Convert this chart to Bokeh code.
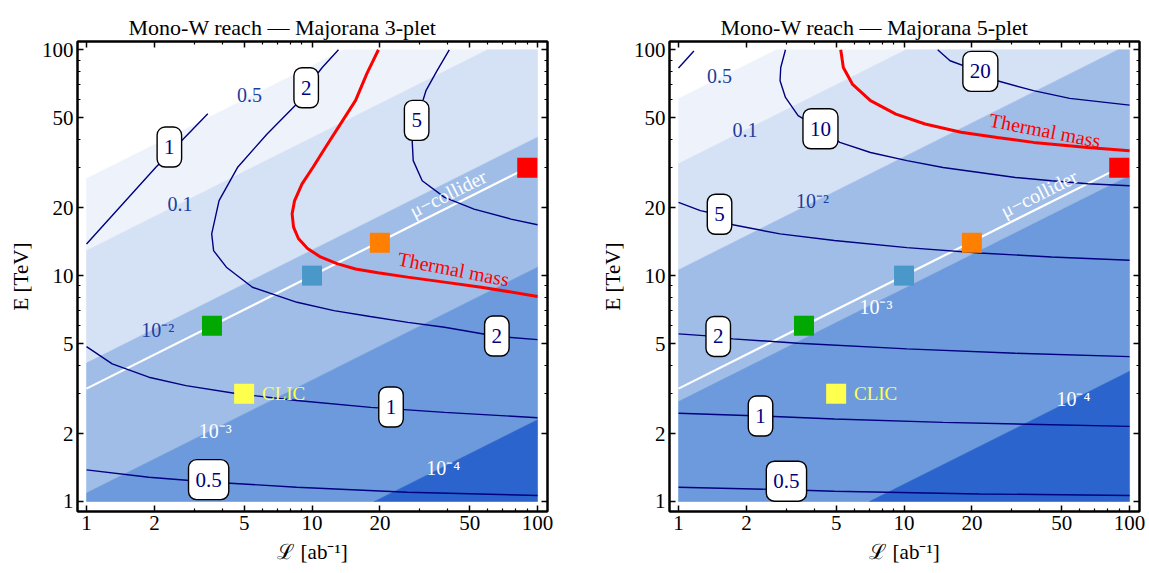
import numpy as np
from bokeh.plotting import figure
from bokeh.models import Range1d, LogAxis, FixedTicker, PrintfTickFormatter, Label, Title
from bokeh.layouts import row
from bokeh.embed import file_html
from bokeh.resources import INLINE

# ------------------------------------------------------------------ data
TITLES = ["Mono-W reach \u2014 Majorana 3-plet", "Mono-W reach \u2014 Majorana 5-plet"]
X_LABEL = "\u2112 [ab\u207b\u00b9]"
Y_LABEL = "E [TeV]"
MAJOR_TICKS = [1, 2, 5, 10, 20, 50, 100]
MINOR_TICKS = [3, 4, 6, 7, 8, 9, 30, 40, 60, 70, 80, 90]

# shaded bands: boundaries E = E0*sqrt(L), E0 listed at L = 1
band_levels = ["0.5", "0.1", "10\u207b\u00b2", "10\u207b\u00b3", "10\u207b\u2074"]
band_E0_3 = [26.9, 12.9, 4.1, 1.09, 0.23]
band_E0_5 = [60.7, 31.3, 10.6, 2.77, 0.377]
band_colors = ["#FFFFFF", "#EEF3FB", "#D5E1F4", "#A0BDE8", "#6D9ADC", "#2A64CC"]
band_label_colors = ["#1F3D9E", "#1F3D9E", "#1F3D9E", "#FFFFFF", "#FFFFFF"]
band_lab_L_3 = [5.28, 2.60, 2.07, 3.72, 38.2]
band_lab_E_3 = [63.2, 20.7, 5.76, 2.06, 1.40]
band_lab_L_5 = [1.52, 1.97, 3.93, 7.51, 56.4]
band_lab_E_5 = [76.2, 44.0, 21.3, 7.25, 2.83]

# muon collider line and benchmark points
mucol_L = [1, 90]
mucol_E = [3.16, 30]
bench_L = [3.6, 10, 20, 90, 5]
bench_E = [6, 10, 14, 30, 3]
bench_colors = ["#00A800", "#4A98CA", "#FF7F00", "#FF0000", "#FFFF4D"]
clic_L, clic_E = 6.0, 3.0

# mass-reach contours, 3-plet
c3_1a_L = [1.0, 2.03, 3.45]
c3_1a_E = [13.8, 30.2, 52.1]
c3_2_L = [13.1, 11.1, 9.43, 8.55, 6.32, 4.67, 3.87, 3.59, 3.66, 4.17, 5.44, 8.58, 12.5, 18.1, 26.6, 38.7, 65.8, 100]
c3_2_E = [100, 83.5, 67.7, 57.5, 42.4, 30.1, 21.5, 15.3, 12.9, 10.9, 8.88, 7.62, 7.0, 6.59, 6.21, 5.91, 5.39, 5.21]
c3_5_L = [40.6, 35.8, 32.0, 29.1, 27.8, 28.1, 30.8, 38.7, 52.3, 76.2, 100]
c3_5_E = [100, 80.7, 65.9, 48.5, 39.6, 32.3, 26.3, 22.2, 19.7, 17.8, 16.8]
c3_1b_L = [1, 1.30, 1.89, 2.76, 4.67, 8.55, 18.2, 38.7, 100]
c3_1b_E = [4.85, 4.07, 3.55, 3.26, 3.0, 2.80, 2.61, 2.48, 2.35]
c3_05_L = [1, 1.89, 3.48, 8.55, 26.5, 100]
c3_05_E = [1.38, 1.28, 1.22, 1.157, 1.099, 1.063]
th3_L = [19.7, 17.5, 15.6, 13.4, 11.5, 10.1, 9.03, 8.37, 8.16, 8.28, 8.70, 9.55, 10.9, 12.9, 15.6, 19.6, 26.5, 38.6, 56.3, 100]
th3_E = [100, 78.4, 59.7, 47.1, 37.1, 30.2, 25.5, 21.5, 18.8, 16.4, 14.6, 13.2, 12.1, 11.3, 10.7, 10.3, 9.85, 9.36, 8.89, 8.09]
lab3_text = ["1", "2", "5", "2", "1", "0.5"]
lab3_L = [2.33, 9.42, 29.1, 66.0, 22.4, 3.48]
lab3_E = [37.1, 67.9, 48.7, 5.40, 2.62, 1.25]

# mass-reach contours, 5-plet
c5_t_L = [1.0, 1.17]
c5_t_E = [83.0, 98.7]
c5_20_L = [14.1, 16.0, 21.8, 25.9, 37.5, 54.3, 100]
c5_20_E = [100, 89.4, 79.9, 72.9, 65.9, 60.9, 56.9]
c5_10_L = [2.98, 2.84, 2.82, 2.98, 3.39, 4.26, 5.19, 7.10, 10.3, 14.9, 21.6, 31.2, 45.1, 65.3, 100]
c5_10_E = [100, 83.5, 72.9, 61.5, 51.1, 44.6, 38.9, 35.1, 32.3, 30.1, 28.6, 27.2, 26.3, 25.5, 25.0]
c5_5_L = [1, 1.25, 1.52, 1.74, 2.82, 4.91, 10.3, 21.6, 45.1, 100]
c5_5_E = [21.1, 19.4, 18.6, 16.8, 15.3, 14.3, 13.3, 12.6, 12.1, 11.7]
c5_2_L = [1, 1.50, 1.74, 3.39, 10.3, 31.2, 100]
c5_2_E = [5.52, 5.37, 5.25, 5.02, 4.74, 4.53, 4.38]
c5_1_L = [1, 2.32, 4.91, 14.9, 100]
c5_1_E = [2.46, 2.39, 2.32, 2.24, 2.15]
c5_05_L = [1, 3.03, 4.91, 21.6, 100]
c5_05_E = [1.157, 1.127, 1.11, 1.08, 1.063]
th5_L = [5.24, 5.38, 5.90, 7.10, 9.20, 12.4, 17.9, 25.9, 37.5, 65.3, 100]
th5_E = [100, 83.5, 70.5, 59.5, 51.9, 46.9, 43.1, 40.9, 38.9, 36.9, 35.7]
lab5_text = ["20", "10", "5", "2", "1", "0.5"]
lab5_L = [21.8, 4.26, 1.52, 1.50, 2.31, 3.01]
lab5_E = [80.2, 44.7, 18.7, 5.38, 2.39, 1.23]

# text positions
mucol_text_pos = [(40.1, 23.1), (39.7, 23.1)]
thermal_text_pos = [(42.4, 10.7), (42.2, 44.0)]

NAVY = "#000080"
SERIF = "Liberation Serif"


def clip(poly, a, b, c):
    out = []
    n = len(poly)
    for i in range(n):
        P, Q = poly[i], poly[(i + 1) % n]
        fp = a * P[0] + b * P[1] - c
        fq = a * Q[0] + b * Q[1] - c
        if fp <= 0:
            out.append(P)
        if fp * fq < 0:
            t = fp / (fp - fq)
            out.append((P[0] + t * (Q[0] - P[0]), P[1] + t * (Q[1] - P[1])))
    return out


def band_polys(E0s):
    bounds = [None] + [np.log10(e) for e in E0s] + [None]
    sq = [(0.0, 0.0), (2.0, 0.0), (2.0, 2.0), (0.0, 2.0)]
    xs, ys = [], []
    for i in range(len(bounds) - 1):
        up, lo = bounds[i], bounds[i + 1]
        poly = sq
        if up is not None:
            poly = clip(poly, -0.5, 1.0, up)
        if lo is not None:
            poly = clip(poly, 0.5, -1.0, -lo)
        xs.append([10 ** p[0] for p in poly])
        ys.append([10 ** p[1] for p in poly])
    return xs, ys


def style_axis(ax, labels=True):
    ax.ticker = FixedTicker(ticks=MAJOR_TICKS, minor_ticks=MINOR_TICKS)
    ax.formatter = PrintfTickFormatter(format="%d")
    ax.axis_line_color = "black"
    ax.axis_line_width = 2
    ax.major_tick_in = 6
    ax.major_tick_out = 0
    ax.minor_tick_in = 3
    ax.minor_tick_out = 0
    ax.major_tick_line_color = "black"
    ax.major_tick_line_width = 1.5
    ax.minor_tick_line_color = "black"
    ax.minor_tick_line_width = 1.2
    ax.major_label_text_font = SERIF
    ax.major_label_text_color = "black"
    if labels:
        ax.major_label_text_font_size = "21px"
        ax.major_label_standoff = 4
    else:
        ax.major_label_overrides = {t: "" for t in MAJOR_TICKS}
        ax.major_label_text_font_size = "1px"
        ax.major_label_standoff = 0
    ax.axis_label_text_font = SERIF
    ax.axis_label_text_font_style = "normal"
    ax.axis_label_text_font_size = "21px"
    ax.axis_label_text_color = "black"


def make_panel(idx, band_E0, contours, thermal, labs, band_lab, border_left, border_right):
    p = figure(frame_width=470, frame_height=470, x_axis_type="log", y_axis_type="log",
               x_range=Range1d(0.912, 110.7), y_range=Range1d(0.903, 108.8),
               output_backend="svg", toolbar_location=None, tools="", title=None,
               min_border_left=border_left, min_border_right=border_right,
               min_border_top=41, min_border_bottom=58)
    p.grid.visible = False
    p.background_fill_color = "white"
    p.border_fill_color = "white"
    p.outline_line_color = "black"
    p.outline_line_width = 2

    style_axis(p.xaxis[0])
    style_axis(p.yaxis[0])
    p.xaxis[0].axis_label = X_LABEL
    p.xaxis[0].axis_label_standoff = 7
    p.yaxis[0].axis_label = Y_LABEL
    p.yaxis[0].axis_label_standoff = 6
    top = LogAxis()
    style_axis(top, labels=False)
    p.add_layout(top, "above")
    right = LogAxis()
    style_axis(right, labels=False)
    p.add_layout(right, "right")

    p.add_layout(Title(text=TITLES[idx], align="left", offset=51, standoff=0,
                       vertical_align="top",
                       text_font=SERIF, text_font_size="22px", text_font_style="normal",
                       text_color="black"), "above")

    xs, ys = band_polys(band_E0)
    p.patches(xs, ys, fill_color=band_colors, line_color=band_colors, line_width=0.6)

    # band level labels
    for txt, (bl, be), col in zip(band_levels, band_lab, band_label_colors):
        p.add_layout(Label(x=bl, y=be, text=txt, text_font=SERIF, text_font_size="20px",
                           text_color=col, text_align="center", text_baseline="middle"))

    # muon collider line
    p.line(mucol_L, mucol_E, line_color="white", line_width=2.2)
    mx, my = mucol_text_pos[idx]
    p.add_layout(Label(x=mx, y=my, text="\u03bc\u2212collider", text_font=SERIF,
                       text_font_size="20px", text_color="white", text_align="center",
                       text_baseline="middle", angle=0.464, angle_units="rad"))

    for cl, ce in contours:
        p.line(cl, ce, line_color=NAVY, line_width=1.4)

    p.line(thermal[0], thermal[1], line_color="#FF0000", line_width=3)
    tx, ty = thermal_text_pos[idx]
    p.add_layout(Label(x=tx, y=ty, text="Thermal mass", text_font=SERIF,
                       text_font_size="20px", text_color="#FF0000", text_align="center",
                       text_baseline="middle", angle=-0.19, angle_units="rad"))

    p.scatter(bench_L, bench_E, marker="square", size=20, fill_color=bench_colors,
              line_color=None)
    p.add_layout(Label(x=clic_L, y=clic_E, text="CLIC", text_font=SERIF,
                       text_font_size="19px", text_color="#FFFF4D", text_align="left",
                       text_baseline="middle"))

    for txt, lx, ly in zip(*labs):
        p.add_layout(Label(x=lx, y=ly, text=txt, text_font=SERIF, text_font_size="21px",
                           text_color=NAVY, text_align="center", text_baseline="middle",
                           background_fill_color="white", border_line_color="black",
                           border_line_width=1.4, border_radius=8, padding=(7, 13)))
    return p


p1 = make_panel(0, band_E0_3,
                [(c3_1a_L, c3_1a_E), (c3_2_L, c3_2_E), (c3_5_L, c3_5_E),
                 (c3_1b_L, c3_1b_E), (c3_05_L, c3_05_E)],
                (th3_L, th3_E), (lab3_text, lab3_L, lab3_E),
                list(zip(band_lab_L_3, band_lab_E_3)), 77, 33)
p2 = make_panel(1, band_E0_5,
                [(c5_t_L, c5_t_E), (c5_20_L, c5_20_E), (c5_10_L, c5_10_E),
                 (c5_5_L, c5_5_E), (c5_2_L, c5_2_E), (c5_1_L, c5_1_E), (c5_05_L, c5_05_E)],
                (th5_L, th5_E), (lab5_text, lab5_L, lab5_E),
                list(zip(band_lab_L_5, band_lab_E_5)), 89, 10)

layout = row(p1, p2, spacing=0)
open("out.html", "w").write(file_html(layout, INLINE))
